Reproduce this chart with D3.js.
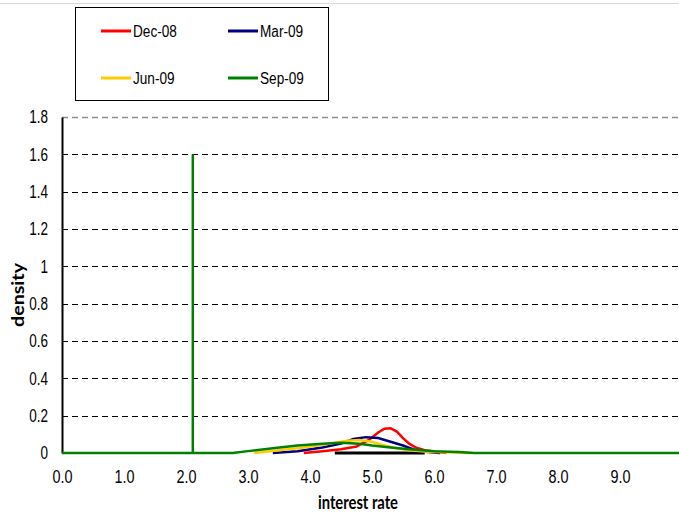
<!DOCTYPE html>
<html lang="en">
<head>
  <meta charset="UTF-8">
  <title>Interest rate densities</title>
  <style>
    body { margin: 0; background: #fff; }
    svg text { font-family: "Liberation Sans", Arial, sans-serif; fill: #000; }
  </style>
</head>
<body>
  <svg id="chart" width="679" height="517"></svg>
  <script src="https://d3js.org/d3.v7.min.js"></script>
  <script>
    // values
    const seriesNames = ["Dec-08", "Mar-09", "Jun-09", "Sep-09"];
    const seriesColors = ["#ff0000", "#000080", "#ffcc00", "#008000"];

    const dec08X = [3.9, 4.2, 4.5, 4.75, 4.95, 5.1, 5.2, 5.3, 5.4, 5.5, 5.6, 5.7, 5.85, 6.0, 6.2];
    const dec08Y = [0, 0.01, 0.02, 0.035, 0.07, 0.11, 0.13, 0.133, 0.115, 0.08, 0.05, 0.03, 0.015, 0.008, 0];

    const mar09X = [3.4, 3.8, 4.2, 4.5, 4.7, 4.9, 5.1, 5.3, 5.5, 5.7, 5.9, 6.1];
    const mar09Y = [0, 0.01, 0.03, 0.05, 0.075, 0.085, 0.08, 0.06, 0.04, 0.015, 0.005, 0];

    const jun09X = [3.1, 3.5, 3.9, 4.3, 4.6, 4.8, 5.0, 5.2, 5.4, 5.6, 5.9, 6.3, 6.6];
    const jun09Y = [0, 0.015, 0.03, 0.05, 0.065, 0.07, 0.06, 0.04, 0.025, 0.015, 0.007, 0.003, 0];

    const sep09X = [0, 2.11, 2.11, 2.11, 2.75, 3.0, 3.4, 3.8, 4.2, 4.5, 4.8, 5.0, 5.3, 5.6, 6.0, 6.4, 6.65, 10];
    const sep09Y = [0, 0, 1.6, 0, 0, 0.01, 0.025, 0.04, 0.05, 0.055, 0.05, 0.04, 0.03, 0.02, 0.01, 0.005, 0, 0];

    // black segment visible under the curves at zero
    const baseX = [4.4, 5.85];
    const baseY = [0, 0];

    const yTicks = [0, 0.2, 0.4, 0.6, 0.8, 1, 1.2, 1.4, 1.6, 1.8];
    const xTicks = [0, 1, 2, 3, 4, 5, 6, 7, 8, 9];

    const svg = d3.select("#chart");
    const margin = { left: 62, top: 117, bottom: 453 };

    const x = d3.scaleLinear().domain([0, 10]).range([margin.left, 682]);
    const y = d3.scaleLinear().domain([0, 1.8]).range([margin.bottom, margin.top]);

    // squeeze text to look like a narrow font
    function condense(sel, factor) {
      sel.each(function () {
        const w = this.getComputedTextLength();
        d3.select(this).attr("textLength", w * factor).attr("lengthAdjust", "spacingAndGlyphs");
      });
    }

    // outer frame top edge
    svg.append("line")
      .attr("x1", 0).attr("x2", 679).attr("y1", 3.5).attr("y2", 3.5)
      .attr("stroke", "#d9d9d9").attr("stroke-width", 1);

    // gridlines
    svg.append("g")
      .selectAll("line")
      .data(yTicks.filter(d => d > 0))
      .enter().append("line")
      .attr("x1", x(0)).attr("x2", 679)
      .attr("y1", d => Math.round(y(d)) + 0.5)
      .attr("y2", d => Math.round(y(d)) + 0.5)
      .attr("stroke", d => d === 1.8 ? "#8c8c8c" : "#000")
      .attr("stroke-width", d => d === 1.8 ? 1.5 : 1)
      .attr("stroke-dasharray", "6,4");

    // y axis
    const yAxis = svg.append("g")
      .attr("transform", `translate(${x(0)},0)`)
      .call(d3.axisLeft(y).tickValues(yTicks).tickSize(0).tickPadding(14)
        .tickFormat(d => d === 0 || d === 1 ? d3.format("d")(d) : d3.format(".1f")(d)));
    yAxis.select(".domain").attr("stroke", "#000").attr("stroke-width", 2);
    yAxis.selectAll("text").style("font-size", "18px").call(condense, 0.75);

    // x axis labels
    const xAxis = svg.append("g")
      .attr("transform", `translate(0,${y(0)})`)
      .call(d3.axisBottom(x).tickValues(xTicks).tickSize(0).tickPadding(17)
        .tickFormat(d3.format(".1f")));
    xAxis.select(".domain").remove();
    xAxis.selectAll("text").style("font-size", "18px").call(condense, 0.8);

    const line = d3.line().x(d => x(d[0])).y(d => y(d[1]));

    svg.append("path")
      .attr("d", line(d3.zip(baseX, baseY)))
      .attr("fill", "none").attr("stroke", "#000").attr("stroke-width", 3);

    const seriesData = [
      d3.zip(dec08X, dec08Y),
      d3.zip(mar09X, mar09Y),
      d3.zip(jun09X, jun09Y),
      d3.zip(sep09X, sep09Y)
    ];

    svg.append("g")
      .selectAll("path")
      .data(seriesData)
      .enter().append("path")
      .attr("d", d => line(d))
      .attr("fill", "none")
      .attr("stroke", (d, i) => seriesColors[i])
      .attr("stroke-width", 2.5);

    // axis titles
    svg.append("text")
      .attr("transform", `translate(24,${(margin.top + margin.bottom) / 2 + 10}) rotate(-90)`)
      .style("text-anchor", "middle")
      .style("font-family", "Lato, 'Open Sans', sans-serif")
      .style("font-weight", "bold")
      .style("font-size", "17px")
      .attr("textLength", 64).attr("lengthAdjust", "spacingAndGlyphs")
      .text("density");

    svg.append("text")
      .attr("x", 358).attr("y", 509)
      .style("text-anchor", "middle")
      .style("font-family", "Lato, 'Open Sans', sans-serif")
      .style("font-weight", "bold")
      .style("font-size", "18px")
      .attr("textLength", 80).attr("lengthAdjust", "spacingAndGlyphs")
      .text("interest rate");

    // legend
    const legend = svg.append("g");
    legend.append("rect")
      .attr("x", 75.5).attr("y", 7.5).attr("width", 253).attr("height", 93)
      .attr("fill", "#fff").attr("stroke", "#000").attr("stroke-width", 1);

    const legendItems = legend.selectAll(".item")
      .data(seriesNames)
      .enter().append("g")
      .attr("class", "item")
      .attr("transform", (d, i) => `translate(${i % 2 === 0 ? 101 : 228},${i < 2 ? 31 : 78})`);

    legendItems.append("line")
      .attr("x1", 0).attr("x2", 30).attr("y1", 0).attr("y2", 0)
      .attr("stroke", (d, i) => seriesColors[i]).attr("stroke-width", 3);

    legendItems.append("text")
      .attr("x", 32).attr("y", 6)
      .style("font-size", "16px")
      .text(d => d)
      .call(condense, 0.85);
  </script>
</body>
</html>
